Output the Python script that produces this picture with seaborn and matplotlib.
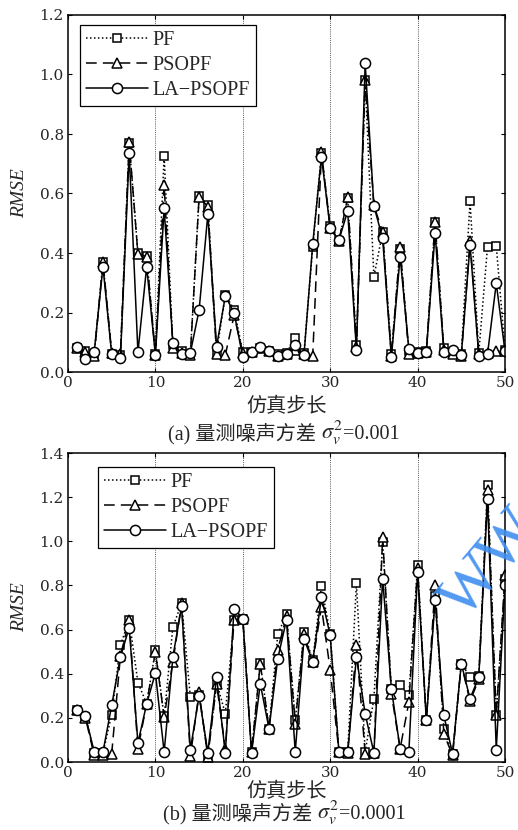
import numpy as np
import pandas as pd
import matplotlib
matplotlib.use("Agg")
import matplotlib.pyplot as plt
import seaborn as sns

steps = list(range(1, 51))

pf_a = [0.08, 0.07, 0.06, 0.37, 0.062, 0.058, 0.77, 0.40, 0.39, 0.06,
        0.726, 0.09, 0.07, 0.06, 0.59, 0.56, 0.065, 0.26, 0.21, 0.068,
        0.066, 0.08, 0.07, 0.06, 0.065, 0.113, 0.065, 0.42, 0.735, 0.49,
        0.44, 0.585, 0.09, 0.98, 0.32, 0.47, 0.06, 0.415, 0.07, 0.068,
        0.07, 0.505, 0.08, 0.06, 0.06, 0.575, 0.065, 0.421, 0.424, 0.075]
psopf_a = [0.08, 0.068, 0.055, 0.371, 0.065, 0.06, 0.774, 0.396, 0.388, 0.057,
           0.629, 0.08, 0.065, 0.056, 0.589, 0.556, 0.06, 0.057, 0.19, 0.065,
           0.066, 0.08, 0.07, 0.055, 0.06, 0.075, 0.06, 0.054, 0.74, 0.483,
           0.44, 0.587, 0.085, 0.98, 0.56, 0.47, 0.055, 0.42, 0.06, 0.065,
           0.068, 0.505, 0.075, 0.06, 0.055, 0.44, 0.06, 0.065, 0.07, 0.07]
la_a = [0.084, 0.043, 0.067, 0.354, 0.06, 0.047, 0.737, 0.066, 0.354, 0.057,
        0.55, 0.096, 0.06, 0.065, 0.208, 0.53, 0.085, 0.255, 0.20, 0.05,
        0.066, 0.085, 0.07, 0.054, 0.06, 0.09, 0.057, 0.43, 0.724, 0.483,
        0.444, 0.541, 0.074, 1.037, 0.558, 0.449, 0.049, 0.388, 0.077, 0.065,
        0.068, 0.466, 0.068, 0.074, 0.057, 0.427, 0.054, 0.06, 0.298, 0.07]

pf_b = [0.234, 0.205, 0.04, 0.04, 0.215, 0.529, 0.645, 0.36, 0.264, 0.506,
        0.207, 0.612, 0.72, 0.295, 0.305, 0.03, 0.36, 0.219, 0.645, 0.65,
        0.045, 0.45, 0.151, 0.579, 0.669, 0.19, 0.589, 0.46, 0.796, 0.58,
        0.045, 0.045, 0.811, 0.045, 0.287, 0.997, 0.33, 0.347, 0.302, 0.891,
        0.19, 0.75, 0.15, 0.035, 0.446, 0.385, 0.39, 1.254, 0.215, 0.83]
psopf_b = [0.234, 0.20, 0.03, 0.03, 0.038, 0.482, 0.642, 0.06, 0.264, 0.498,
           0.204, 0.453, 0.72, 0.025, 0.317, 0.023, 0.355, 0.06, 0.645, 0.65,
           0.045, 0.446, 0.151, 0.509, 0.66, 0.174, 0.58, 0.453, 0.702, 0.418,
           0.045, 0.04, 0.529, 0.038, 0.04, 1.02, 0.31, 0.06, 0.272, 0.88,
           0.189, 0.80, 0.128, 0.03, 0.446, 0.275, 0.375, 1.231, 0.211, 0.846]
la_b = [0.234, 0.207, 0.045, 0.045, 0.257, 0.476, 0.609, 0.086, 0.264, 0.403,
        0.045, 0.476, 0.705, 0.056, 0.299, 0.043, 0.385, 0.041, 0.695, 0.65,
        0.041, 0.355, 0.151, 0.468, 0.645, 0.045, 0.559, 0.453, 0.748, 0.574,
        0.045, 0.045, 0.476, 0.219, 0.041, 0.831, 0.332, 0.06, 0.045, 0.861,
        0.189, 0.733, 0.211, 0.038, 0.446, 0.287, 0.385, 1.193, 0.056, 0.80]

series_names = ["PF", "PSOPF", "LA\u2212PSOPF"]
x_ticks = [0, 10, 20, 30, 40, 50]
y_ticks_a = [0.0, 0.2, 0.4, 0.6, 0.8, 1.0, 1.2]
y_ticks_b = [0.0, 0.2, 0.4, 0.6, 0.8, 1.0, 1.2, 1.4]
xlabel_text = "仿真步长"
ylabel_text = "RMSE"
caption_a = ["(a) 量测噪声方差 ", r"$\sigma_v^2$", "=0.001"]
caption_b = ["(b) 量测噪声方差 ", r"$\sigma_v^2$", "=0.0001"]

sns.set_theme(style="ticks")
plt.rcParams["font.family"] = ["Liberation Serif", "Noto Sans CJK SC", "DejaVu Sans"]
plt.rcParams["mathtext.fontset"] = "stix"
plt.rcParams["axes.unicode_minus"] = False

fig = plt.figure(figsize=(5.18, 8.30), dpi=100)
W, H = 518, 830
ax_a = fig.add_axes([68 / W, 1 - 372 / H, (505 - 68) / W, (372 - 15) / H])
ax_b = fig.add_axes([68 / W, 1 - 762 / H, (505 - 68) / W, (762 - 453) / H])

styles = [
    dict(marker="s", linestyle=(0, (1, 1.6)), markersize=5.2),
    dict(marker="^", linestyle=(0, (7, 4)), markersize=6.5),
    dict(marker="o", linestyle="-", markersize=7.3),
]


def draw(ax, vals, yticks, ymax, leg_xy):
    for name, v, st in zip(series_names, vals, styles):
        sns.lineplot(x=steps, y=v, ax=ax, color="black", linewidth=1.1,
                     markerfacecolor="white", markeredgecolor="black",
                     markeredgewidth=1.1, label=name, **st)
    ax.set_xlim(0, 50)
    ax.set_ylim(0, ymax)
    ax.set_xticks(x_ticks)
    ax.set_yticks(yticks)
    ax.set_yticklabels([f"{t:.1f}" for t in yticks])
    ax.tick_params(direction="in", top=True, right=True, length=3,
                   width=0.8, labelsize=11, color="black", pad=3)
    for t in ax.get_xticklabels() + ax.get_yticklabels():
        t.set_family(["DejaVu Serif"])
    for s in ax.spines.values():
        s.set_color("black")
        s.set_linewidth(1.1)
    for xv in [10, 20, 30, 40]:
        ax.axvline(xv, color="0.35", linestyle=(0, (1, 1.2)), linewidth=0.7, zorder=0)
    ax.set_xlabel("")
    ax.set_ylabel(ylabel_text, fontstyle="italic", fontsize=14)
    ax.yaxis.set_label_coords(-(68 - 28) / 437, 0.5)
    leg = ax.legend(loc="upper left", bbox_to_anchor=leg_xy, frameon=True,
                    fancybox=False, edgecolor="black", framealpha=1,
                    fontsize=14.5, handlelength=3.1, handletextpad=0.2,
                    borderpad=0.3, labelspacing=0.28, borderaxespad=0.0)
    leg.get_frame().set_linewidth(0.9)


draw(ax_a, [pf_a, psopf_a, la_a], y_ticks_a, 1.2,
     ((80 - 68) / 437, 1 - (25 - 15) / 357))
draw(ax_b, [pf_b, psopf_b, la_b], y_ticks_b, 1.4,
     ((98 - 68) / 437, 1 - (467 - 453) / 309))

fig.text(286.5 / W, 1 - 407 / H, xlabel_text, ha="center", va="center",
         fontsize=14.5, family=["Noto Sans CJK SC", "DejaVu Sans"])
fig.text(286.5 / W, 1 - 792 / H, xlabel_text, ha="center", va="center",
         fontsize=14.5, family=["Noto Sans CJK SC", "DejaVu Sans"])

renderer = fig.canvas.get_renderer()


def caption(parts, xc, yc):
    texts = []
    for p in parts:
        if p.startswith("$"):
            t = fig.text(0, yc, p, ha="left", va="baseline", fontsize=16)
        elif "(" in p:
            t = fig.text(0, yc, p, ha="left", va="baseline", fontsize=14.5,
                         family=["Liberation Serif", "Noto Sans CJK SC"])
        else:
            t = fig.text(0, yc, p, ha="left", va="baseline", fontsize=14.5,
                         family=["Liberation Serif"])
        texts.append(t)
    widths = [t.get_window_extent(renderer).width for t in texts]
    total = sum(widths)
    x = xc * W - total / 2
    for t, w in zip(texts, widths):
        t.set_x(x / W)
        x += w


caption(caption_a, 284 / W, 1 - 439 / H)
caption(caption_b, 284 / W, 1 - 819 / H)

fig.text(492 / W, 1 - 565 / H, "WW", rotation=50, color="#3f8ef0",
         fontsize=46, ha="center", va="center", alpha=0.9,
         family=["Liberation Serif"])

fig.savefig("out.png", dpi=100)
